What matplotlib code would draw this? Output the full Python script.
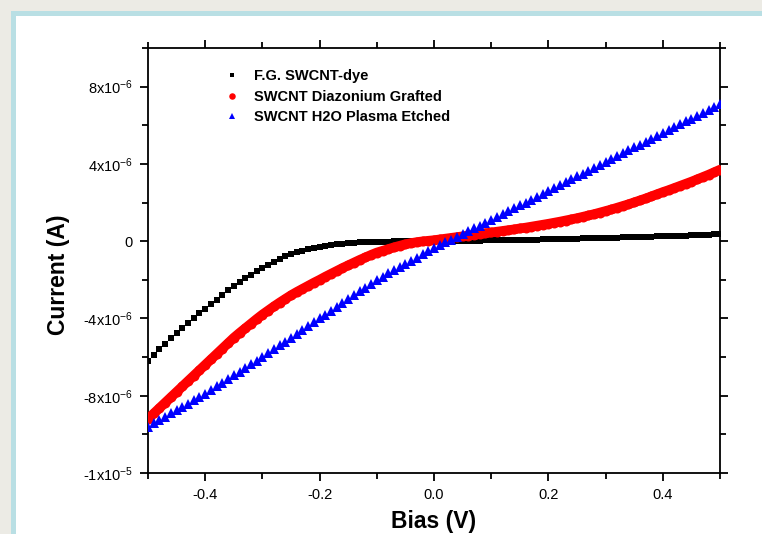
import numpy as np
import matplotlib
matplotlib.use('Agg')
import matplotlib.pyplot as plt
from matplotlib.ticker import FixedLocator, MultipleLocator
from matplotlib.patches import Rectangle

plt.rcParams['font.family'] = ['Liberation Sans', 'DejaVu Sans']
plt.rcParams['mathtext.default'] = 'regular'

# bias sweep, -0.5 V to 0.5 V in 10 mV steps
bias = np.linspace(-0.5, 0.5, 101)

# currents, in microamps
dyeCurrent = [
  -6.20, -5.90, -5.60, -5.31, -5.03, -4.75, -4.49, -4.23, -3.98, -3.74,
  -3.50, -3.26, -3.02, -2.78, -2.54, -2.31, -2.10, -1.91, -1.73, -1.56,
  -1.40, -1.24, -1.09, -0.94, -0.79, -0.66, -0.57, -0.49, -0.42, -0.35,
  -0.30, -0.25, -0.21, -0.17, -0.13, -0.10, -0.08, -0.06, -0.05, -0.04,
  -0.03, -0.025, -0.02, -0.015, -0.01, -0.01, -0.005, -0.005, 0.0, 0.0,
  0.0, 0.004, 0.008, 0.012, 0.016, 0.020, 0.024, 0.028, 0.032, 0.037,
  0.042, 0.047, 0.052, 0.057, 0.063, 0.069, 0.075, 0.081, 0.087, 0.093,
  0.099, 0.106, 0.113, 0.120, 0.127, 0.134, 0.141, 0.148, 0.156, 0.164,
  0.172, 0.180, 0.188, 0.196, 0.204, 0.212, 0.221, 0.230, 0.239, 0.248,
  0.257, 0.266, 0.275, 0.284, 0.294, 0.304, 0.314, 0.324, 0.334, 0.346,
  0.360]

diazoniumCurrent = [
  -9.20, -8.92, -8.64, -8.36, -8.08, -7.80, -7.52, -7.24, -6.96, -6.68,
  -6.40, -6.12, -5.84, -5.56, -5.28, -5.00, -4.75, -4.51, -4.27, -4.03,
  -3.80, -3.59, -3.38, -3.18, -2.99, -2.80, -2.63, -2.47, -2.31, -2.15,
  -2.00, -1.84, -1.69, -1.54, -1.39, -1.25, -1.11, -0.97, -0.84, -0.71,
  -0.59, -0.50, -0.41, -0.32, -0.24, -0.16, -0.10, -0.05, -0.01, 0.02,
  0.05, 0.09, 0.13, 0.17, 0.21, 0.25, 0.29, 0.33, 0.37, 0.41,
  0.45, 0.49, 0.53, 0.57, 0.61, 0.66, 0.70, 0.75, 0.80, 0.85,
  0.90, 0.955, 1.01, 1.07, 1.13, 1.19, 1.26, 1.33, 1.40, 1.48,
  1.56, 1.64, 1.73, 1.82, 1.91, 2.01, 2.11, 2.21, 2.32, 2.43,
  2.54, 2.64, 2.75, 2.86, 2.97, 3.08, 3.20, 3.32, 3.44, 3.57,
  3.70]

plasmaCurrent = [
  -9.60, -9.43, -9.26, -9.09, -8.92, -8.75, -8.58, -8.41, -8.24, -8.07,
  -7.90, -7.71, -7.52, -7.33, -7.14, -6.95, -6.76, -6.57, -6.38, -6.19,
  -6.00, -5.80, -5.60, -5.40, -5.20, -5.00, -4.80, -4.60, -4.40, -4.20,
  -4.00, -3.80, -3.60, -3.40, -3.20, -3.00, -2.80, -2.60, -2.40, -2.20,
  -2.00, -1.83, -1.66, -1.50, -1.34, -1.18, -1.01, -0.85, -0.68, -0.52,
  -0.35, -0.21, -0.06, 0.08, 0.23, 0.38, 0.52, 0.67, 0.81, 0.96,
  1.10, 1.25, 1.40, 1.55, 1.70, 1.85, 2.00, 2.15, 2.30, 2.45,
  2.60, 2.75, 2.90, 3.05, 3.20, 3.35, 3.50, 3.65, 3.80, 3.95,
  4.10, 4.25, 4.40, 4.55, 4.70, 4.85, 5.00, 5.15, 5.30, 5.45,
  5.60, 5.75, 5.90, 6.05, 6.20, 6.35, 6.50, 6.65, 6.80, 6.95,
  7.10]

seriesLabels = ['F.G. SWCNT-dye', 'SWCNT Diazonium Grafted', 'SWCNT H2O Plasma Etched']

yTicks = [-12e-6, -8e-6, -4e-6, 0, 4e-6, 8e-6]
yTickLabels = [r'-1x10$^{-5}$', r'-8x10$^{-6}$', r'-4x10$^{-6}$', '0',
               r'4x10$^{-6}$', r'8x10$^{-6}$']
xTicks = [-0.4, -0.2, 0.0, 0.2, 0.4]
xTickLabels = ['-0.4', '-0.2', '0.0', '0.2', '0.4']

fig = plt.figure(figsize=(7.62, 5.34), dpi=100)
fig.patch.set_facecolor('#ecebe5')
# slide frame: light blue border, white inside
fig.patches.append(Rectangle((11/762., -0.1), 1.2, (534-11)/534. + 0.1, transform=fig.transFigure,
                             facecolor='#b9dfe4', edgecolor='none', zorder=0))
fig.patches.append(Rectangle((16/762., -0.1), 1.2, (534-16)/534. + 0.1, transform=fig.transFigure,
                             facecolor='white', edgecolor='none', zorder=0))

ax = fig.add_axes([148/762., 61/534., 572/762., 425/534.])
ax.set_facecolor('none')
ax.set_zorder(5)

ax.plot(bias, np.array(dyeCurrent)*1e-6, 's', color='black', markersize=4.9,
        markeredgewidth=0, label=seriesLabels[0], zorder=3)
# dense red circles merge into a solid band
ax.plot(bias, np.array(diazoniumCurrent)*1e-6, '-', color='red', linewidth=7,
        solid_capstyle='round', zorder=4)
ax.plot(bias, np.array(diazoniumCurrent)*1e-6, 'o', color='red', markersize=7.2,
        markeredgewidth=0, label=seriesLabels[1], zorder=4)
ax.plot(bias, np.array(plasmaCurrent)*1e-6, '^', color='blue', markersize=6.6,
        markeredgewidth=0, label=seriesLabels[2], zorder=5)

ax.set_xlim(-0.5, 0.5)
ax.set_ylim(-12e-6, 10e-6)
ax.xaxis.set_major_locator(FixedLocator(xTicks))
ax.set_xticklabels(xTickLabels)
ax.xaxis.set_minor_locator(MultipleLocator(0.1))
ax.yaxis.set_major_locator(FixedLocator(yTicks))
ax.set_yticklabels(yTickLabels)
ax.yaxis.set_minor_locator(MultipleLocator(2e-6))

for s in ax.spines.values():
  s.set_linewidth(1.3)
ax.tick_params(which='both', direction='out', top=True, right=True, width=1.3, labelsize=10.5)
ax.tick_params(which='major', length=6, pad=5)
ax.tick_params(which='minor', length=4)

ax.set_ylabel('Current (A)', fontsize=16.5, fontweight='bold')
ax.yaxis.set_label_coords(-0.136, 0.466)
ax.set_xlabel('Bias (V)', fontsize=16.5, fontweight='bold')
ax.xaxis.set_label_coords(0.5, -0.114)
ax.xaxis.label.set_va('center')

leg = ax.legend(loc='upper left', bbox_to_anchor=(0.122, 0.967), frameon=False, numpoints=1,
                handlelength=1.0, handletextpad=0.95, labelspacing=0.44, borderpad=0,
                prop={'weight': 'bold', 'size': 10.5}, markerscale=0.65)

plt.savefig('out.png', dpi=100, facecolor=fig.get_facecolor())
